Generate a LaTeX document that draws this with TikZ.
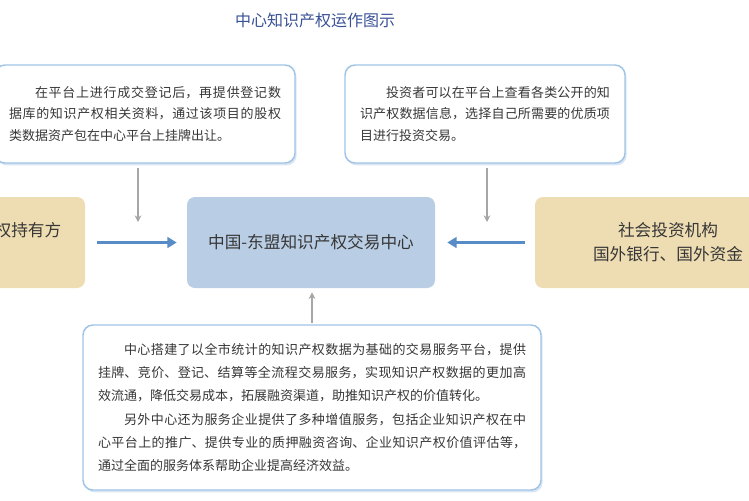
\documentclass[tikz,border=0pt]{standalone}
\usepackage{fontspec}
\setmainfont{Noto Sans CJK SC}
\XeTeXlinebreaklocale "zh"
\XeTeXlinebreakskip = 0pt plus 1pt
\usetikzlibrary{arrows.meta,shadows}

\definecolor{boxline}{RGB}{160,196,230}
\definecolor{boxshade}{RGB}{218,230,244}
\definecolor{hubfill}{RGB}{185,205,228}
\definecolor{srcfill}{RGB}{238,221,178}
\definecolor{flowblue}{RGB}{88,140,198}
\definecolor{titleblue}{RGB}{58,82,150}
\definecolor{textgray}{RGB}{55,55,55}

\begin{document}
\begin{tikzpicture}[x=0.75pt,y=0.75pt,yscale=-1,xscale=1,
  infobox/.style={draw=boxline, line width=1.1pt, fill=white, rounded corners=7.5pt, inner sep=0pt, align=justify, text=textgray,
    font=\fontsize{9.75pt}{16.1pt}\selectfont,
    drop shadow={shadow xshift=1.2pt, shadow yshift=-1.8pt, fill=boxshade, opacity=1}},
  srcbox/.style={fill=srcfill, rounded corners=6pt, inner sep=0pt, align=center, text=textgray,
    font=\fontsize{12.5pt}{18pt}\selectfont, minimum height=68.25pt},
  hubbox/.style={fill=hubfill, rounded corners=6pt, inner sep=0pt, align=center, text=textgray,
    font=\fontsize{12.5pt}{18pt}\selectfont, minimum width=186pt, minimum height=68.25pt},
  flow/.style={draw=flowblue, line width=2.2pt, -{Triangle[length=7pt,width=8pt]}},
  feed/.style={draw=gray!70, line width=0.8pt, -{Stealth[length=5pt,width=5pt]}}
]
\path[use as bounding box] (0,0) rectangle (749,500);

% Text Node
\node (title) [text=titleblue, font=\fontsize{12pt}{14pt}\selectfont] at (315,20) {中心知识产权运作图示};

% Shape: Rounded Rect
\node (infoL) [infobox, minimum width=225pt, minimum height=73.5pt, text width=204pt] at (145,114)
  {\hspace*{2em}在平台上进行成交登记后，再提供登记数据库的知识产权相关资料，通过该项目的股权类数据资产包在中心平台上挂牌出让。};
% Shape: Rounded Rect
\node (infoR) [infobox, minimum width=210pt, minimum height=73.5pt, text width=187.5pt] at (485,114)
  {\hspace*{2em}投资者可以在平台上查看各类公开的知识产权数据信息，选择自己所需要的优质项目进行投资交易。};

% Shape: Rounded Rect
\node (srcL) [srcbox, minimum width=198pt] at (-47,242.5) {院所及企业等知识产权持有方\\（出让方）};
% Shape: Rounded Rect
\node (hub) [hubbox] at (311,242.5) {中国-东盟知识产权交易中心};
% Shape: Rounded Rect
\node (srcR) [srcbox, minimum width=199.5pt] at (668,242.5) {社会投资机构\\国外银行、国外资金};

% Shape: Rounded Rect
\node (note) [infobox, minimum width=343.5pt, minimum height=123.75pt, text width=321pt, font=\fontsize{9.75pt}{17.5pt}\selectfont] at (312,407.5)
  {\hspace*{2em}中心搭建了以全市统计的知识产权数据为基础的交易服务平台，提供挂牌、竞价、登记、结算等全流程交易服务，实现知识产权数据的更加高效流通，降低交易成本，拓展融资渠道，助推知识产权的价值转化。\par
   \hspace*{2em}另外中心还为服务企业提供了多种增值服务，包括企业知识产权在中心平台上的推广、提供专业的质押融资咨询、企业知识产权价值评估等，通过全面的服务体系帮助企业提高经济效益。};

\coordinate (tipL) at (138,222);
\coordinate (tipR) at (487,222);

% Connection
\draw [flow, shorten <=9pt, shorten >=7.5pt] (srcL.east) -- (hub.west);
% Connection
\draw [flow, shorten <=7.5pt, shorten >=9pt] (srcR.west) -- (hub.east);
% Connection
\draw [feed, shorten <=3pt] (infoL.south -| tipL) -- (tipL);
% Connection
\draw [feed, shorten <=3pt] (infoR.south -| tipR) -- (tipR);
% Connection
\draw [feed, shorten <=1pt, shorten >=3pt] (note.north) -- (note.north |- hub.south);

\end{tikzpicture}
\end{document}
